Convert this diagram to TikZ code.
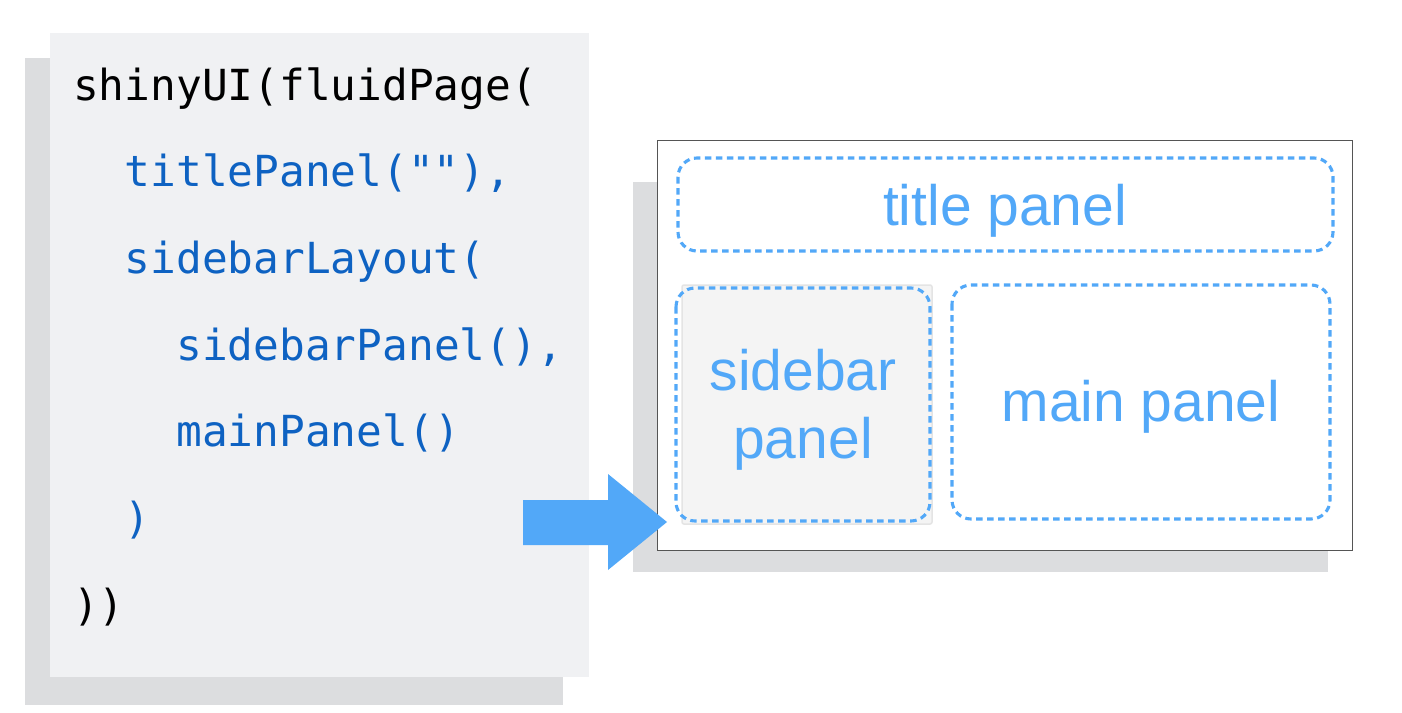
\documentclass[tikz,border=0pt]{standalone}
\usepackage{fontspec}
\setmainfont{Liberation Sans}
\newfontfamily\codefont{DejaVu Sans Mono}
\definecolor{shadowgray}{HTML}{DCDDDF}
\definecolor{codebg}{HTML}{F0F1F3}
\definecolor{codeblue}{HTML}{0E62C2}
\definecolor{labelblue}{HTML}{52A8F8}
\definecolor{sidefill}{HTML}{F4F4F4}
\definecolor{sideedge}{HTML}{E4E4E4}
\definecolor{frameedge}{HTML}{555555}
\tikzset{
  codeline/.style={anchor=base west, inner sep=0pt, font=\codefont\fontsize{42.8}{50}\selectfont},
  panelbox/.style={draw=labelblue, line width=3.1pt, dash pattern=on 6.5pt off 4.5pt, rounded corners=19pt},
  paneltext/.style={text=labelblue, font=\fontsize{57}{68}\selectfont, align=center, inner sep=0pt}
}
\begin{document}
\begin{tikzpicture}[x=1pt,y=-1pt]
\useasboundingbox (0,0) rectangle (1402,712);
% code panel
\fill[shadowgray] (25,58) rectangle (563,705);
\fill[codebg] (50,33) rectangle (589,677);
\node[codeline] (l1) at (73,100) {shinyUI(fluidPage(};
\node[codeline, text=codeblue] (l2) at (124.6,186.7) {titlePanel(""),};
\node[codeline, text=codeblue] (l3) at (124.6,273.3) {sidebarLayout(};
\node[codeline, text=codeblue] (l4) at (176.2,360) {sidebarPanel(),};
\node[codeline, text=codeblue] (l5) at (176.2,446.7) {mainPanel()};
\node[codeline, text=codeblue] (l6) at (124.6,533.3) {)};
\node[codeline] (l7) at (73,620) {))};
% page
\fill[shadowgray] (633,182) rectangle (1328,572);
\draw[frameedge, fill=white, line width=1pt] (657,140) rectangle (1352,550);
\draw[panelbox] (678,158) rectangle (1333,251);
\node[paneltext] (title) at (1005,211) {title panel};
\draw[sideedge, fill=sidefill, line width=1.5pt, rounded corners=2pt] (682,285) rectangle (932,524);
\draw[panelbox] (676,288) rectangle (930,521);
\node[paneltext] (side) at (803,410) {sidebar\\panel};
\draw[panelbox] (952,285) rectangle (1330,519);
\node[paneltext] (main) at (1141,407) {main panel};
% arrow
\fill[labelblue] (523,500) -- (608,500) -- (608,474) -- (667,522) -- (608,570) -- (608,545) -- (523,545) -- cycle;
\end{tikzpicture}
\end{document}
